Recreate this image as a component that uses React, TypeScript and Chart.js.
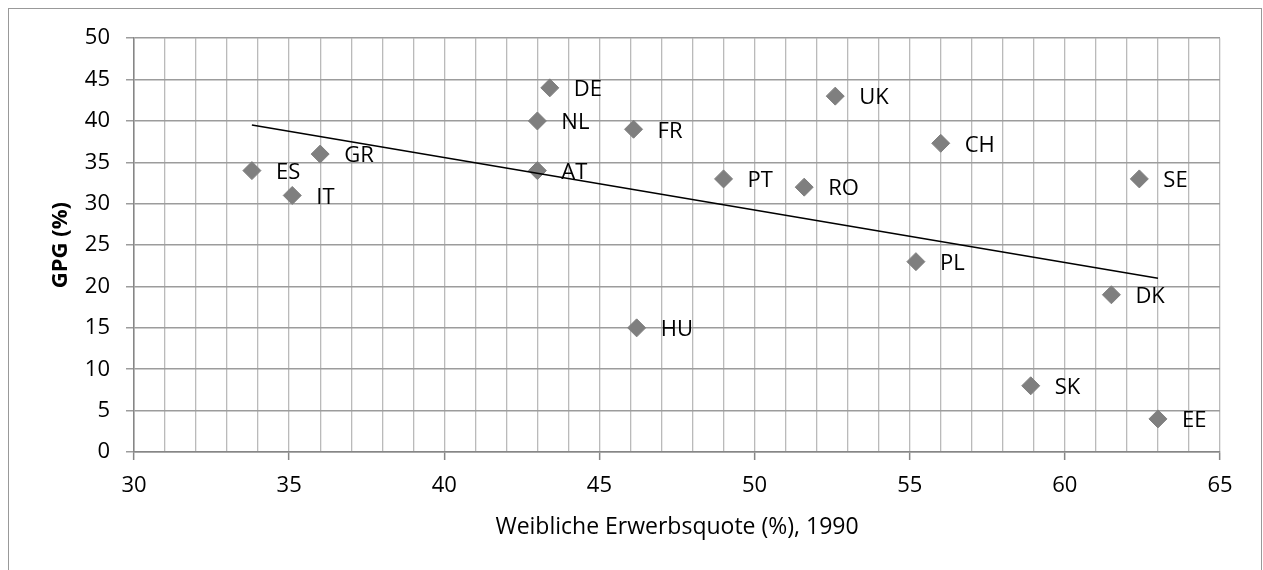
import React, { useEffect, useRef } from "react";
import { Chart, registerables } from "chart.js";

Chart.register(...registerables);

const countries = ["ES", "IT", "GR", "DE", "NL", "AT", "FR", "PT", "RO", "UK", "CH", "SE", "PL", "DK", "SK", "EE", "HU"];
const erwerbsquote = [33.8, 35.1, 36.0, 43.4, 43.0, 43.0, 46.1, 49.0, 51.6, 52.6, 56.0, 62.4, 55.2, 61.5, 58.9, 63.0, 46.2];
const gpg = [34, 31, 36, 44, 40, 34, 39, 33, 32, 43, 37.3, 33, 23, 19, 8, 4, 15];
const trendX = [33.8, 63.0];
const trendY = [39.5, 21.0];
const xTitle = "Weibliche Erwerbsquote (%), 1990";
const yTitle = "GPG (%)";

const FONT = "'Open Sans', 'DejaVu Sans', sans-serif";

const labelPlugin = {
  id: "pointLabels",
  afterDatasetsDraw(chart: any) {
    const meta = chart.getDatasetMeta(1);
    const ctx = chart.ctx;
    ctx.save();
    ctx.font = `22px ${FONT}`;
    ctx.fillStyle = "#000";
    ctx.textAlign = "left";
    ctx.textBaseline = "middle";
    meta.data.forEach((el: any, i: number) => {
      ctx.fillText(countries[i], el.x + 24, el.y + 2);
    });
    ctx.restore();
  },
};

export default function App() {
  const ref = useRef<HTMLCanvasElement>(null);
  useEffect(() => {
    document.documentElement.style.overflow = "hidden";
    document.body.style.overflow = "hidden";
    if (!ref.current) return;
    const chart = new Chart(ref.current, {
      type: "scatter",
      data: {
        datasets: [
          {
            type: "line",
            data: trendX.map((x, i) => ({ x, y: trendY[i] })),
            borderColor: "#000",
            borderWidth: 1.5,
            pointRadius: 0,
            fill: false,
            order: 0,
          } as any,
          {
            data: erwerbsquote.map((x, i) => ({ x, y: gpg[i] })),
            pointStyle: "rectRot",
            pointRadius: 9,
            pointBackgroundColor: "#7f7f7f",
            pointBorderColor: "#7f7f7f",
            pointBorderWidth: 1,
            order: 1,
          },
        ],
      },
      options: {
        animation: false,
        responsive: false,
        events: [],
        layout: { padding: { top: 29, right: 41, left: 0, bottom: 0 } },
        plugins: { legend: { display: false }, tooltip: { enabled: false } },
        scales: {
          x: {
            type: "linear",
            min: 30,
            max: 65,
            afterFit(scale: any) {
              scale.height = 127;
            },
            ticks: {
              stepSize: 1,
              autoSkip: false,
              maxRotation: 0,
              padding: 13,
              color: "#000",
              font: { family: FONT, size: 22 },
              callback: (v: any) => (Number(v) % 5 === 0 ? String(v) : ""),
            },
            grid: {
              color: "#bababa",
              lineWidth: 1.3,
              tickLength: 8,
              tickColor: (c: any) => (c.tick && c.tick.value % 5 === 0 ? "#868686" : "rgba(0,0,0,0)"),
              tickWidth: 1.5,
            },
            border: { color: "#868686", width: 1.5 },
            title: {
              display: true,
              text: xTitle,
              color: "#000",
              font: { family: FONT, size: 23 },
              padding: { top: 0, bottom: 38 },
            },
          },
          y: {
            type: "linear",
            min: 0,
            max: 50,
            afterFit(scale: any) {
              scale.width = 125;
            },
            ticks: {
              stepSize: 5,
              padding: 16,
              color: "#000",
              font: { family: FONT, size: 22 },
            },
            grid: {
              color: "#9c9c9c",
              lineWidth: 1.5,
              tickLength: 8,
              tickColor: "#9c9c9c",
            },
            border: { color: "#868686", width: 1.5 },
            title: {
              display: true,
              text: yTitle,
              color: "#000",
              font: { family: FONT, size: 22, weight: "bold" },
              padding: { top: 39, bottom: 0 },
            },
          },
        },
      },
      plugins: [labelPlugin],
    });
    return () => chart.destroy();
  }, []);

  return (
    <div
      style={{
        position: "absolute",
        left: 8,
        top: 8,
        width: 1252,
        height: 570,
        border: "1px solid #999",
        boxSizing: "content-box",
      }}
    >
      <canvas ref={ref} width={1252} height={570} style={{ display: "block" }} />
    </div>
  );
}
